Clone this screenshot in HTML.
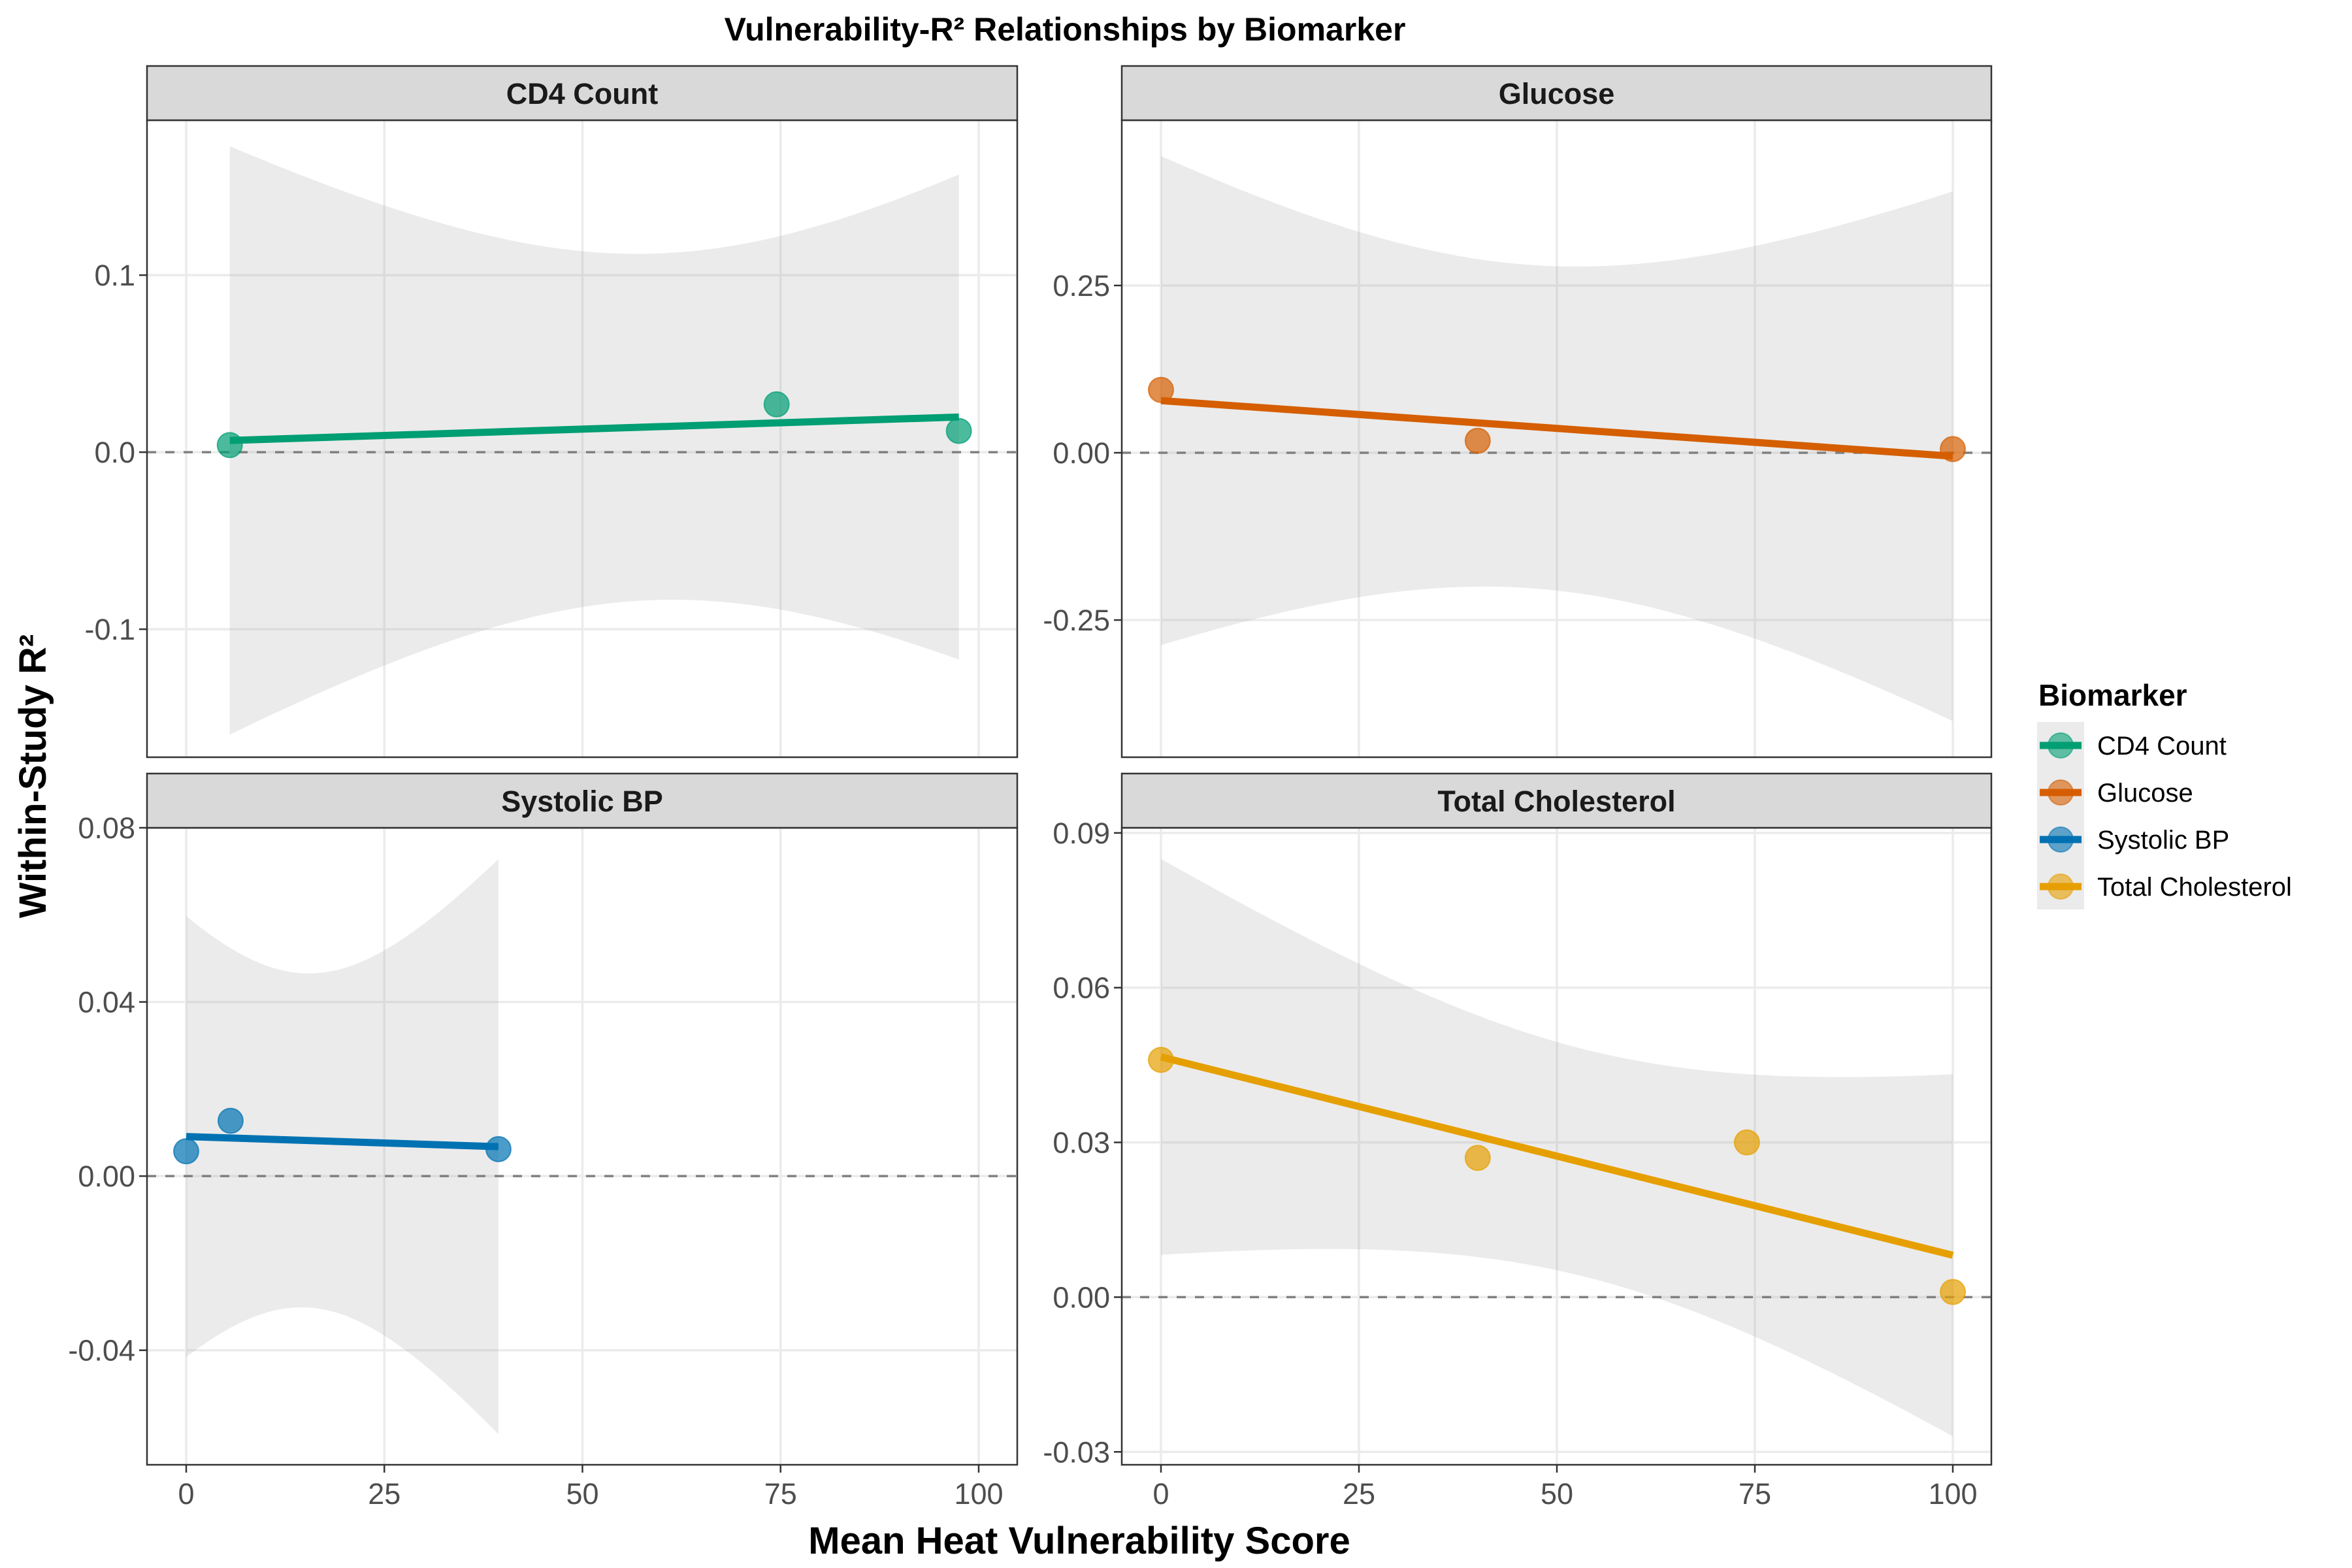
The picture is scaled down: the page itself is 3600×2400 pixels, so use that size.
<!DOCTYPE html>
<html><head><meta charset="utf-8">
<style>
html,body{margin:0;padding:0;background:#fff;}
svg{display:block;font-family:"Liberation Sans",sans-serif;}
</style></head>
<body>
<svg id="chart" width="3600" height="2400" viewBox="0 0 3600 2400" xmlns="http://www.w3.org/2000/svg">
<text x="1630" y="62" text-anchor="middle" font-size="50" font-weight="bold" fill="#000">Vulnerability-R² Relationships by Biomarker</text>
<text x="1652" y="2378" text-anchor="middle" font-size="58" font-weight="bold" fill="#000">Mean Heat Vulnerability Score</text>
<text transform="translate(70,1188) rotate(-90)" text-anchor="middle" font-size="58" font-weight="bold" fill="#000">Within-Study R²</text>
<g id="panels"></g>
<g id="legend"></g>
</svg>
<script>
const NS = "http://www.w3.org/2000/svg";
const biomarkers = ["CD4 Count", "Glucose", "Systolic BP", "Total Cholesterol"];
const colors = ["#009E73", "#D55E00", "#0072B2", "#E69F00"];
const cd4X = [5.5, 74.5, 97.5];
const cd4Y = [0.004, 0.027, 0.012];
const glucoseX = [0, 40, 100];
const glucoseY = [0.094, 0.018, 0.0055];
const sbpX = [0, 5.6, 39.4];
const sbpY = [0.0057, 0.0127, 0.0062];
const cholX = [0, 40, 74, 100];
const cholY = [0.046, 0.027, 0.030, 0.001];
const xTicks = [0, 25, 50, 75, 100];
const cd4Ticks = [-0.1, 0.0, 0.1];
const glucoseTicks = [-0.25, 0.00, 0.25];
const sbpTicks = [-0.04, 0.00, 0.04, 0.08];
const cholTicks = [-0.03, 0.00, 0.03, 0.06, 0.09];
const tTable = {1: 12.706, 2: 4.303, 3: 3.182, 4: 2.776};

const panelsCfg = [
  {name:"cd4", xs:cd4X, ys:cd4Y, ticks:cd4Ticks, dec:1, L:225, R:1557, T:184, B:1159, ymin:-0.1723, ymax:0.1875, showX:false},
  {name:"glucose", xs:glucoseX, ys:glucoseY, ticks:glucoseTicks, dec:2, L:1717, R:3048, T:184, B:1159, ymin:-0.455, ymax:0.497, showX:false},
  {name:"systolic-bp", xs:sbpX, ys:sbpY, ticks:sbpTicks, dec:2, L:225, R:1557, T:1267, B:2242, ymin:-0.0663, ymax:0.0800, showX:true},
  {name:"total-cholesterol", xs:cholX, ys:cholY, ticks:cholTicks, dec:2, L:1717, R:3048, T:1267, B:2242, ymin:-0.0325, ymax:0.0910, showX:true}
];

function mk(tag, attrs, parent){ const e=document.createElementNS(NS,tag); for(const k in attrs) e.setAttribute(k,attrs[k]); parent.appendChild(e); return e; }
const root = document.getElementById("panels");

panelsCfg.forEach((p, i) => {
  const g = mk("g", {}, root);
  
  
  const x0 = p.L + 60, x100 = p.R - 59;
  const xs = v => x0 + (x100 - x0) * v / 100;
  const ys = v => p.B - (v - p.ymin) / (p.ymax - p.ymin) * (p.B - p.T);
  mk("rect", {x:p.L, y:p.T, width:p.R-p.L, height:p.B-p.T, fill:"#fff"}, g);
  xTicks.forEach(t => { mk("line", {x1:xs(t), x2:xs(t), y1:p.T, y2:p.B, stroke:"#ebebeb", "stroke-width":3.5}, g); });
  p.ticks.forEach(t => { mk("line", {x1:p.L, x2:p.R, y1:ys(t), y2:ys(t), stroke:"#ebebeb", "stroke-width":3.5}, g); });
  const n = p.xs.length;
  const mx = p.xs.reduce((a,b)=>a+b,0)/n, my = p.ys.reduce((a,b)=>a+b,0)/n;
  let sxx=0, sxy=0; for(let k=0;k<n;k++){ sxx+=(p.xs[k]-mx)**2; sxy+=(p.xs[k]-mx)*(p.ys[k]-my); }
  const b = sxy/sxx, a = my - b*mx;
  let sse=0; for(let k=0;k<n;k++){ sse+=(p.ys[k]-(a+b*p.xs[k]))**2; }
  const s = Math.sqrt(sse/(n-2)), tq = tTable[n-2];
  const xmin = Math.min(...p.xs), xmax = Math.max(...p.xs);
  const up=[], lo=[];
  for(let k=0;k<=80;k++){ const xv = xmin + (xmax-xmin)*k/80; const f=a+b*xv; const h=tq*s*Math.sqrt(1/n+(xv-mx)**2/sxx);
    up.push(xs(xv).toFixed(1)+","+ys(f+h).toFixed(1)); lo.unshift(xs(xv).toFixed(1)+","+ys(f-h).toFixed(1)); }
  const clip = mk("clipPath", {id:"clip"+i}, g);
  mk("rect", {x:p.L, y:p.T, width:p.R-p.L, height:p.B-p.T}, clip);
  const cg = mk("g", {"clip-path":"url(#clip"+i+")"}, g);
  const rib = mk("polygon", {points: up.concat(lo).join(" "), fill:"#999999", "fill-opacity":0.2}, cg);
  
  
  mk("line", {x1:p.L, x2:p.R, y1:ys(0), y2:ys(0), stroke:"#808080", "stroke-width":3.5, "stroke-dasharray":"14 14"}, cg);
  p.xs.forEach((xv, k) => {
    const c = mk("ellipse", {cx:xs(xv), cy:ys(p.ys[k]), rx:19, ry:19, fill:colors[i], "fill-opacity":0.7, stroke:colors[i], "stroke-opacity":0.7, "stroke-width":2}, cg);
    
    
  });
  const ln = mk("line", {x1:xs(xmin), y1:ys(a+b*xmin), x2:xs(xmax), y2:ys(a+b*xmax), stroke:colors[i], "stroke-width":11}, cg);
  
  
  mk("rect", {x:p.L, y:p.T, width:p.R-p.L, height:p.B-p.T, fill:"none", stroke:"#333", "stroke-width":2.5}, g);
  const st = mk("rect", {x:p.L, y:p.T-83, width:p.R-p.L, height:83, fill:"#d9d9d9", stroke:"#333", "stroke-width":2.5}, g);
  
  
  const stt = mk("text", {x:(p.L+p.R)/2, y:p.T-25, "text-anchor":"middle", "font-size":45, "font-weight":"bold", fill:"#1a1a1a"}, g);
  stt.textContent = biomarkers[i];
  
  
  p.ticks.forEach(t => {
    const y = ys(t);
    mk("line", {x1:p.L-12, x2:p.L, y1:y, y2:y, stroke:"#333", "stroke-width":2.5}, g);
    const tx = mk("text", {x:p.L-18, y:y+16, "text-anchor":"end", "font-size":45, fill:"#4d4d4d"}, g);
    tx.textContent = t.toFixed(p.dec);
    
    
  });
  if (p.showX) {
    xTicks.forEach(t => {
      const x = xs(t);
      mk("line", {x1:x, x2:x, y1:p.B, y2:p.B+12, stroke:"#333", "stroke-width":2.5}, g);
      const tx = mk("text", {x:x, y:p.B+60, "text-anchor":"middle", "font-size":45, fill:"#4d4d4d"}, g);
      tx.textContent = String(t);
      
      
    });
  }
});

const lg = document.getElementById("legend");
const lt = mk("text", {x:3120, y:1080, "font-size":46, "font-weight":"bold", fill:"#000"}, lg);
lt.textContent = "Biomarker";


mk("rect", {x:3118, y:1105, width:72, height:287, fill:"#ebebeb"}, lg);
biomarkers.forEach((bm, i) => {
  const cy = 1141 + i * 72;
  const e = mk("g", {}, lg);
  
  
  mk("line", {x1:3122, x2:3186, y1:cy, y2:cy, stroke:colors[i], "stroke-width":11}, e);
  mk("circle", {cx:3154, cy:cy, r:19, fill:colors[i], "fill-opacity":0.6, stroke:colors[i], "stroke-opacity":0.6, "stroke-width":2}, e);
  const t = mk("text", {x:3210, y:cy+14, "font-size":40, fill:"#000"}, e);
  t.textContent = bm;
});
</script>
</body></html>
